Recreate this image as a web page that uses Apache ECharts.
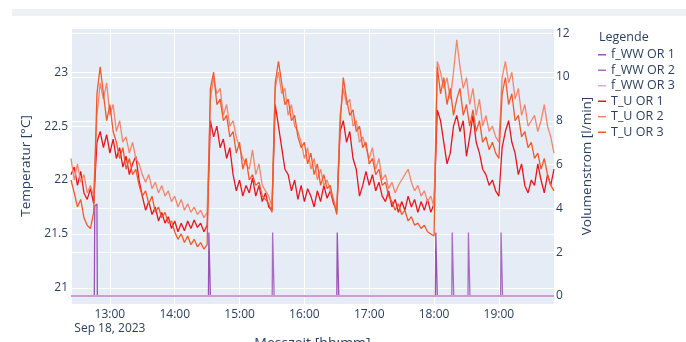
<!DOCTYPE html>
<html><head><meta charset="utf-8">
<script src="https://cdn.jsdelivr.net/npm/echarts@6/dist/echarts.min.js"></script>
<style>html,body{margin:0;padding:0;background:#fff}#c{width:686px;height:342px}</style>
</head><body><div id="c"></div>
<script>
// ---- data ----
const dateLabel = 'Sep 18, 2023';
const axisStart = Date.UTC(2023, 8, 18, 12, 24);
const axisEnd = Date.UTC(2023, 8, 18, 19, 51);
const tempStepMinutes = 3; // samples every 3 minutes from 12:24
const seriesNames = ['f_WW OR 1', 'f_WW OR 2', 'f_WW OR 3', 'T_U OR 1', 'T_U OR 2', 'T_U OR 3'];

const T_U_OR_1 = [
  22.05, 22.12, 21.95, 22.08, 21.88, 21.82, 21.92, 21.78, 22.35, 22.45,
  22.3, 22.42, 22.25, 22.38, 22.2, 22.3, 22.12, 22.22, 22.05, 22.15,
  22.22, 22.0, 21.85, 21.72, 21.8, 21.68, 21.75, 21.62, 21.7, 21.6,
  21.66, 21.55, 21.62, 21.52, 21.6, 21.53, 21.62, 21.55, 21.63, 21.56,
  21.6, 21.52, 21.58, 22.55, 22.4, 22.5, 22.3, 22.38, 22.2, 22.3,
  22.05, 21.9, 22.0, 21.85, 21.95, 21.88, 22.02, 21.85, 21.95, 21.8,
  21.88, 21.75, 21.72, 22.7, 22.5, 22.3, 22.1, 22.05, 21.9, 22.0,
  21.82, 21.95, 21.8, 21.92, 21.85, 21.75, 21.9, 21.8, 21.95, 21.83,
  21.9, 21.78, 21.72, 22.45, 22.55, 22.35, 22.45, 22.2, 22.1, 21.85,
  21.95, 22.08, 21.95, 22.05, 21.9, 21.98, 21.85, 21.8, 21.9, 21.75,
  21.82, 21.7, 21.8, 21.72, 21.85, 21.75, 21.82, 21.7, 21.8, 21.72,
  21.82, 21.7, 21.78, 22.65, 22.55, 22.35, 22.15, 22.25, 22.5, 22.6,
  22.45, 22.55, 22.22, 22.4, 22.6, 22.35, 22.25, 22.1, 22.05, 21.95,
  22.0, 21.9, 21.85, 22.3, 22.45, 22.55, 22.35, 22.25, 22.05, 22.15,
  21.95, 21.88, 22.0, 21.95, 22.15, 22.0, 21.88, 22.05, 21.95, 22.1
];
const T_U_OR_2 = [
  22.2, 22.0, 22.15, 21.98, 22.05, 21.88, 21.95, 21.85, 22.6, 22.9,
  22.75, 22.9, 22.6, 22.7, 22.45, 22.55, 22.35, 22.4, 22.25, 22.35,
  22.2, 22.15, 22.05, 21.98, 22.05, 21.92, 21.98, 21.88, 21.95, 21.85,
  21.9, 21.8, 21.85, 21.75, 21.82, 21.72, 21.78, 21.7, 21.75, 21.68,
  21.72, 21.65, 21.7, 22.75, 22.95, 22.8, 22.85, 22.6, 22.7, 22.5,
  22.55, 22.4, 22.3, 22.2, 22.15, 22.1, 22.28, 22.05, 22.15, 21.95,
  21.9, 21.85, 21.75, 22.85, 23.0, 22.8, 22.85, 22.6, 22.7, 22.5,
  22.45, 22.35, 22.2, 22.3, 22.1, 22.2, 22.0, 22.1, 21.95, 22.0,
  21.9, 21.82, 21.7, 22.6, 22.85, 22.7, 22.75, 22.5, 22.55, 22.35,
  22.4, 22.3, 22.2, 22.3, 22.1, 22.2, 22.0, 22.05, 21.92, 21.98,
  21.88, 21.95, 22.0, 22.05, 22.1, 21.98, 21.9, 21.95, 21.85, 21.9,
  21.8, 21.85, 21.75, 23.1, 23.0, 22.85, 22.95, 22.75, 23.0, 23.3,
  23.05, 22.85, 22.95, 22.7, 22.85, 22.6, 22.75, 22.5, 22.6, 22.45,
  22.5, 22.4, 22.35, 22.95, 23.1, 22.9, 23.0, 22.75, 22.85, 22.6,
  22.7, 22.5, 22.55, 22.6, 22.45, 22.55, 22.7, 22.5, 22.4, 22.25
];
const T_U_OR_3 = [
  22.0, 21.88, 21.75, 21.82, 21.65, 21.58, 21.55, 21.7, 22.8, 23.05,
  22.8, 22.55, 22.7, 22.45, 22.35, 22.2, 22.3, 22.1, 22.2, 22.05,
  22.1, 21.95, 21.85, 21.9, 21.78, 21.85, 21.7, 21.75, 21.65, 21.7,
  21.6, 21.62, 21.52, 21.45, 21.5, 21.42, 21.48, 21.4, 21.45, 21.38,
  21.42, 21.36, 21.4, 22.85, 23.0, 22.7, 22.75, 22.55, 22.6, 22.4,
  22.45, 22.25, 22.35, 22.1, 22.2, 22.0, 22.05, 21.95, 21.98, 21.85,
  21.82, 21.78, 21.7, 22.9, 23.1, 22.9, 22.7, 22.75, 22.55, 22.6,
  22.4, 22.3, 22.35, 22.15, 22.25, 22.05, 22.15, 21.95, 22.05, 21.92,
  21.95, 21.8, 21.68, 22.5, 22.95, 22.75, 22.6, 22.65, 22.45, 22.5,
  22.3, 22.35, 22.15, 22.2, 22.05, 22.1, 21.95, 21.98, 21.85, 21.8,
  21.72, 21.78, 21.68, 21.72, 21.62, 21.66, 21.58, 21.6, 21.55, 21.58,
  21.52, 21.5, 21.48, 23.05, 22.8, 22.95, 22.7, 22.85, 22.6, 22.75,
  22.85, 22.6, 22.7, 22.5, 22.65, 22.45, 22.55, 22.35, 22.4, 22.28,
  22.35, 22.25, 22.2, 22.8, 22.95, 22.7, 22.8, 22.55, 22.6, 22.4,
  22.45, 22.3, 22.35, 22.2, 22.25, 22.1, 22.2, 22.05, 21.95, 21.9
];

// flow: minutes after 12:24 and values [l/min]
const fWW_OR_1_min = [0, 21.6, 22.0, 24.0, 24.4, 127.2, 127.6, 128.6, 129.0, 246.0, 246.4, 247.4, 247.8, 337.2, 337.6, 338.6, 339.0, 447];
const fWW_OR_1_val = [0, 0, 4.1, 4.2, 0, 0, 2.9, 2.9, 0, 0, 2.9, 2.9, 0, 0, 2.9, 2.9, 0, 0];
const fWW_OR_2_min = [0, 186.2, 186.6, 187.6, 188.0, 352.4, 352.8, 353.8, 354.2, 367.4, 367.8, 368.8, 369.2, 397.6, 398.0, 399.0, 399.4, 447];
const fWW_OR_2_val = [0, 0, 2.9, 2.9, 0, 0, 2.9, 2.9, 0, 0, 2.9, 2.9, 0, 0, 2.9, 2.9, 0, 0];
const fWW_OR_3_min = [0, 447];
const fWW_OR_3_val = [0, 0];

// ---- build ----
const MIN = 60000;
const tempPairs = arr => arr.map((v, i) => [axisStart + i * tempStepMinutes * MIN, v]);
const flowPairs = (mins, vals) => mins.map((m, i) => [axisStart + m * MIN, vals[i]]);
const pad = n => (n < 10 ? '0' : '') + n;

const colors = ['#9b52b6', '#a96cc2', '#d6addc', '#e8151d', '#f3866a', '#f1592a'];
const font = '"Open Sans", "Noto Sans", sans-serif';
const txt = '#2a3f5f';

const chart = echarts.init(document.getElementById('c'), null, {renderer: 'canvas'});
const flowData = [flowPairs(fWW_OR_1_min, fWW_OR_1_val), flowPairs(fWW_OR_2_min, fWW_OR_2_val), flowPairs(fWW_OR_3_min, fWW_OR_3_val)];
const tempData = [tempPairs(T_U_OR_1), tempPairs(T_U_OR_2), tempPairs(T_U_OR_3)];

const series = [];
flowData.forEach((d, i) => series.push({
  name: seriesNames[i], type: 'line', yAxisIndex: 1, data: d, showSymbol: false, symbol: 'none',
  lineStyle: {width: 1.3, color: colors[i]}, itemStyle: {color: colors[i]}
}));
tempData.forEach((d, i) => series.push({
  name: seriesNames[3 + i], type: 'line', yAxisIndex: 0, data: d, showSymbol: false, symbol: 'none',
  lineStyle: {width: 1.3, color: colors[3 + i]}, itemStyle: {color: colors[3 + i]}
}));

chart.setOption({
  animation: false,
  useUTC: true,
  color: colors,
  textStyle: {fontFamily: font, color: txt},
  grid: {left: 71, right: 132, top: 28, bottom: 38, show: true, backgroundColor: '#E5ECF6', borderWidth: 0,
         containLabel: false, outerBoundsMode: 'none'},
  legend: {
    orient: 'vertical', left: 593, top: 42, itemGap: 0, itemWidth: 8, itemHeight: 1.5, icon: 'rect',
    data: seriesNames,
    textStyle: {fontFamily: font, fontSize: 12.5, color: txt, lineHeight: 15.5}
  },
  graphic: [
    {type: 'rect', shape: {x: 12, y: 9, width: 674, height: 7}, style: {fill: '#eef0f4'}, silent: true},
    {type: 'text', left: 599, top: 31, style: {text: 'Legende', fontFamily: font, fontSize: 12.5, fill: txt}}
  ],
  xAxis: {
    type: 'time', min: axisStart, max: axisEnd,
    minInterval: 3600000, maxInterval: 3600000,
    name: 'Messzeit [hh:mm]', nameLocation: 'middle', nameGap: 33, nameMoveOverlap: false,
    nameTextStyle: {fontFamily: font, fontSize: 14, color: txt, verticalAlign: 'top'},
    axisLine: {show: false}, axisTick: {show: false},
    splitLine: {show: true, lineStyle: {color: '#ffffff', width: 1}},
    axisLabel: {
      fontFamily: font, fontSize: 12, color: txt, margin: 3, lineHeight: 14.5,
      showMinLabel: false, showMaxLabel: false, hideOverlap: false,
      formatter: v => {
        const d = new Date(v);
        const h = d.getUTCHours(), m = d.getUTCMinutes();
        const s = pad(h) + ':' + pad(m);
        return (h === 13 && m === 0) ? s + '\n' + dateLabel : s;
      }
    }
  },
  yAxis: [
    {
      type: 'value', min: 20.85, max: 23.41, splitNumber: 5, position: 'left',
      name: 'Temperatur [°C]', nameLocation: 'middle', nameGap: 20, nameRotate: 90,
      nameTextStyle: {fontFamily: font, fontSize: 13.5, color: txt},
      axisLine: {show: false}, axisTick: {show: false},
      splitLine: {show: true, lineStyle: {color: '#ffffff', width: 1}},
      axisLabel: {fontFamily: font, fontSize: 12, color: txt, margin: 3, showMinLabel: false, showMaxLabel: false}
    },
    {
      type: 'value', min: -0.365, max: 12.24, splitNumber: 6, position: 'right',
      name: 'Volumenstrom [l/min]', nameLocation: 'middle', nameGap: 9, nameRotate: 90,
      nameTextStyle: {fontFamily: font, fontSize: 13.5, color: txt},
      axisLine: {show: false}, axisTick: {show: false},
      splitLine: {show: true, lineStyle: {color: '#ffffff', width: 1}},
      axisLabel: {fontFamily: font, fontSize: 12, color: txt, margin: 2, showMinLabel: false, showMaxLabel: false}
    }
  ],
  series: series
});
</script></body></html>
